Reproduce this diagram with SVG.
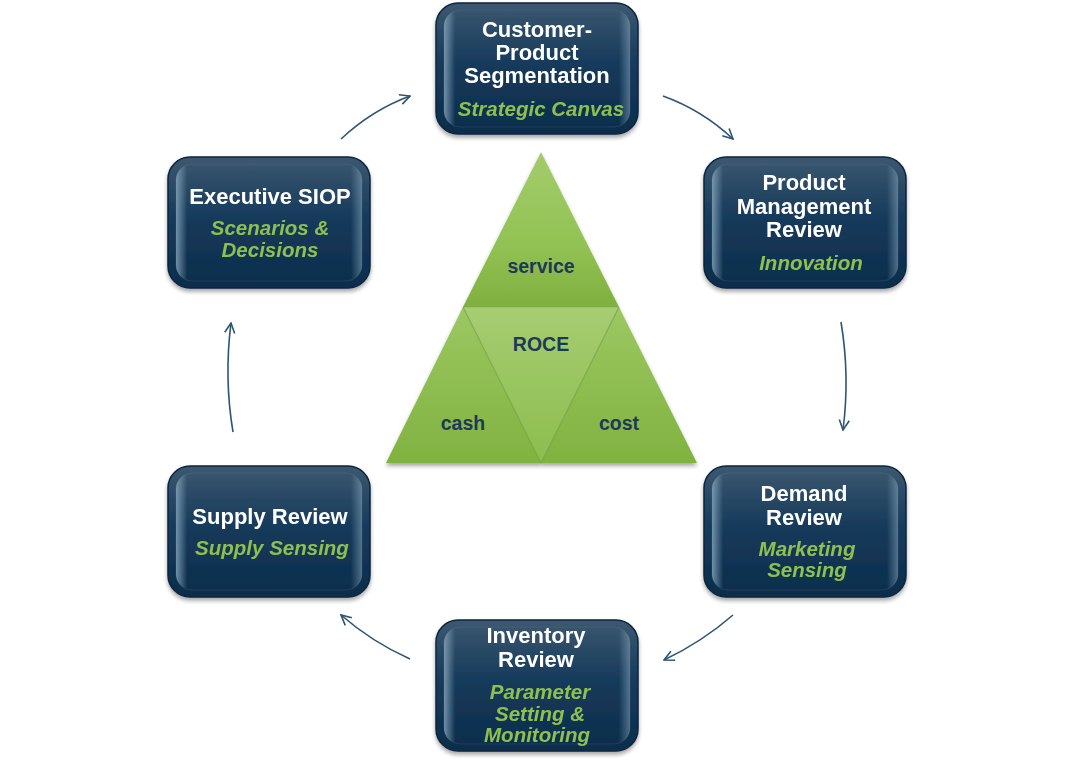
<svg xmlns="http://www.w3.org/2000/svg" width="1074" height="760" viewBox="0 0 1074 760">
<defs>
<linearGradient id="boxg" x1="0" y1="0" x2="0" y2="1">
<stop offset="0" stop-color="#3d5870"/>
<stop offset="0.45" stop-color="#173b5b"/>
<stop offset="1" stop-color="#0c2d4b"/>
</linearGradient>
<linearGradient id="edgeg" x1="0" y1="0" x2="1" y2="0">
<stop offset="0" stop-color="#8fb0c6" stop-opacity="0.75"/>
<stop offset="0.06" stop-color="#8fb0c6" stop-opacity="0"/>
<stop offset="0.94" stop-color="#8fb0c6" stop-opacity="0"/>
<stop offset="1" stop-color="#8fb0c6" stop-opacity="0.5"/>
</linearGradient>
<linearGradient id="topg" x1="0" y1="0" x2="0" y2="1">
<stop offset="0" stop-color="#a3cc6c"/>
<stop offset="0.6" stop-color="#92c253"/>
<stop offset="1" stop-color="#7fb03f"/>
</linearGradient>
<linearGradient id="sideg" x1="0" y1="0" x2="0" y2="1">
<stop offset="0" stop-color="#9cc862"/>
<stop offset="1" stop-color="#80b240"/>
</linearGradient>
<linearGradient id="midg" x1="0" y1="0" x2="0" y2="1">
<stop offset="0" stop-color="#a6cd72"/>
<stop offset="1" stop-color="#8cbd4e"/>
</linearGradient>
<filter id="sh" x="-10%" y="-10%" width="120%" height="125%">
<feGaussianBlur in="SourceAlpha" stdDeviation="2"/>
<feOffset dx="0" dy="3"/>
<feComponentTransfer><feFuncA type="linear" slope="0.35"/></feComponentTransfer>
<feMerge><feMergeNode/><feMergeNode in="SourceGraphic"/></feMerge>
</filter>
<marker id="ah" viewBox="0 0 12 12" refX="11" refY="6" markerWidth="12" markerHeight="12" markerUnits="userSpaceOnUse" orient="auto">
<path d="M1,1 L11,6 L1,11" fill="none" stroke="#2d5573" stroke-width="1.6"/>
</marker>
</defs>
<style>
.box{fill:url(#boxg);stroke:#0a2540;stroke-width:1.5}
.hl{fill:url(#edgeg);stroke:#6f8fa6;stroke-opacity:0.18;stroke-width:1}
.t{font-family:"Liberation Sans",Arial,sans-serif;font-weight:bold;font-size:22px;fill:#ffffff;text-anchor:middle}
.g{font-family:"Liberation Sans",Arial,sans-serif;font-weight:bold;font-style:italic;font-size:20.5px;fill:#8dc050;text-anchor:middle}
.tri{font-family:"Liberation Sans",Arial,sans-serif;font-weight:bold;font-size:19.5px;fill:#1c3a58;text-anchor:middle}
.arr{fill:none;stroke:#2d5573;stroke-width:1.6;marker-end:url(#ah)}
</style>
<rect width="1074" height="760" fill="#ffffff"/>

<g id="connectors">
<path class="arr" d="M341,139 Q372,110 410,96"/>
<path class="arr" d="M663,96 Q702,110 733,139"/>
<path class="arr" d="M841,322 Q850,376 843,430"/>
<path class="arr" d="M733,615 Q702,642 664,660"/>
<path class="arr" d="M410,659 Q372,642 341,615"/>
<path class="arr" d="M233,432 Q224,378 231,323"/>
</g>

<g id="triangle">
<g filter="url(#sh)">
<polygon points="541,152 619,307 463,307" fill="url(#topg)"/>
<polygon points="463,307 541,463 386,463" fill="url(#sideg)"/>
<polygon points="619,307 697,463 541,463" fill="url(#sideg)"/>
<polygon points="463,307 619,307 541,463" fill="url(#midg)"/>
</g>
<path d="M463,307 L541,463 L619,307" fill="none" stroke="#6e9a38" stroke-opacity="0.6" stroke-width="1.2"/>
<line x1="463" y1="307" x2="619" y2="307" stroke="#7aa844" stroke-opacity="0.5" stroke-width="1"/>
<text class="tri" x="541" y="273">service</text>
<text class="tri" x="541" y="351">ROCE</text>
<text class="tri" x="463" y="430">cash</text>
<text class="tri" x="619" y="430">cost</text>
</g>

<g id="node-customer" filter="url(#sh)">
<rect class="box" x="436" y="3" width="202" height="131" rx="22"/>
<rect class="hl" x="444" y="10" width="186" height="117" rx="16"/>
<text class="t" x="537" y="37">Customer-</text>
<text class="t" x="537" y="60">Product</text>
<text class="t" x="537" y="83">Segmentation</text>
<text class="g" x="541" y="116">Strategic Canvas</text>
</g>

<g id="node-product" filter="url(#sh)">
<rect class="box" x="704" y="157" width="202" height="131" rx="22"/>
<rect class="hl" x="712" y="164" width="186" height="117" rx="16"/>
<text class="t" x="804" y="190">Product</text>
<text class="t" x="804" y="214">Management</text>
<text class="t" x="804" y="237">Review</text>
<text class="g" x="811" y="270">Innovation</text>
</g>

<g id="node-demand" filter="url(#sh)">
<rect class="box" x="704" y="466" width="202" height="131" rx="22"/>
<rect class="hl" x="712" y="473" width="186" height="117" rx="16"/>
<text class="t" x="804" y="501">Demand</text>
<text class="t" x="804" y="525">Review</text>
<text class="g" x="807" y="556">Marketing</text>
<text class="g" x="807" y="577">Sensing</text>
</g>

<g id="node-inventory" filter="url(#sh)">
<rect class="box" x="436" y="620" width="202" height="131" rx="22"/>
<rect class="hl" x="444" y="627" width="186" height="117" rx="16"/>
<text class="t" x="536" y="643">Inventory</text>
<text class="t" x="536" y="667">Review</text>
<text class="g" x="540" y="699">Parameter</text>
<text class="g" x="540" y="721">Setting &amp;</text>
<text class="g" x="537" y="742">Monitoring</text>
</g>

<g id="node-supply" filter="url(#sh)">
<rect class="box" x="168" y="466" width="202" height="131" rx="22"/>
<rect class="hl" x="176" y="473" width="186" height="117" rx="16"/>
<text class="t" x="270" y="524">Supply Review</text>
<text class="g" x="272" y="555">Supply Sensing</text>
</g>

<g id="node-executive" filter="url(#sh)">
<rect class="box" x="168" y="157" width="202" height="131" rx="22"/>
<rect class="hl" x="176" y="164" width="186" height="117" rx="16"/>
<text class="t" x="270" y="204">Executive SIOP</text>
<text class="g" x="270" y="235">Scenarios &amp;</text>
<text class="g" x="270" y="257">Decisions</text>
</g>
</svg>
